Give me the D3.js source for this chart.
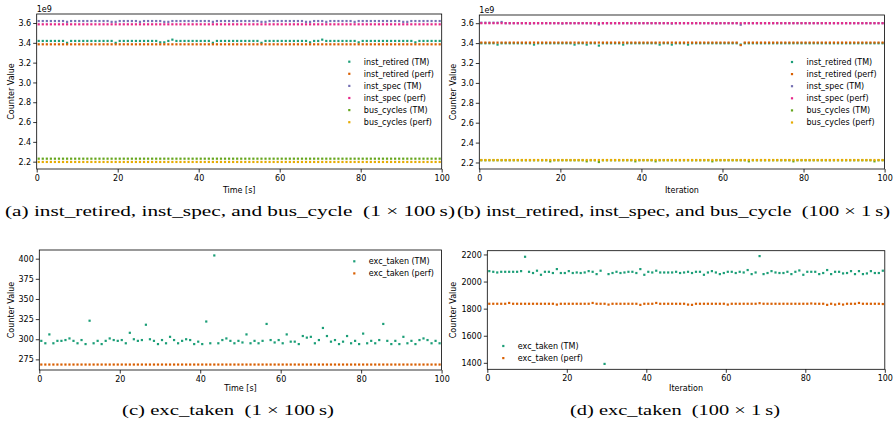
<!DOCTYPE html>
<html><head><meta charset="utf-8">
<script src="https://cdn.jsdelivr.net/npm/d3@7"></script>
<style>
body{margin:0;background:#fff}
svg text{font-family:"DejaVu Sans",sans-serif;fill:#000}
.cap{font-family:"Liberation Serif",serif;white-space:pre}
</style>
</head><body>
<svg id="chart" width="894" height="424"></svg>
<script>
// ---------------- DATA ----------------
const xPos = [0.5,1.5,2.5,3.5,4.5,5.5,6.5,7.5,8.5,9.5,10.5,11.5,12.5,13.5,14.5,15.5,16.5,17.5,18.5,19.5,
20.5,21.5,22.5,23.5,24.5,25.5,26.5,27.5,28.5,29.5,30.5,31.5,32.5,33.5,34.5,35.5,36.5,37.5,38.5,39.5,
40.5,41.5,42.5,43.5,44.5,45.5,46.5,47.5,48.5,49.5,50.5,51.5,52.5,53.5,54.5,55.5,56.5,57.5,58.5,59.5,
60.5,61.5,62.5,63.5,64.5,65.5,66.5,67.5,68.5,69.5,70.5,71.5,72.5,73.5,74.5,75.5,76.5,77.5,78.5,79.5,
80.5,81.5,82.5,83.5,84.5,85.5,86.5,87.5,88.5,89.5,90.5,91.5,92.5,93.5,94.5,95.5,96.5,97.5,98.5,99.5];

const xTicks = [0,20,40,60,80,100];
const yTicksTop = [2.2,2.4,2.6,2.8,3.0,3.2,3.4,3.6];
const yTicksC = [275,300,325,350,375,400];
const yTicksD = [1400,1600,1800,2000,2200];

const seriesNamesTop = ["inst_retired (TM)","inst_retired (perf)","inst_spec (TM)","inst_spec (perf)","bus_cycles (TM)","bus_cycles (perf)"];
const seriesNamesExc = ["exc_taken (TM)","exc_taken (perf)"];
const captions = ["(a) inst_retired, inst_spec, and bus_cycle  (1 \u00d7 100\u2009s)",
                  "(b) inst_retired, inst_spec, and bus_cycle  (100 \u00d7 1\u2009s)",
                  "(c) exc_taken  (1 \u00d7 100\u2009s)",
                  "(d) exc_taken  (100 \u00d7 1\u2009s)"];

// (a) values in units of 1e9
const aInstRetiredTM = [3.419,3.419,3.419,3.419,3.419,3.419,3.419,3.400,3.419,3.419,
3.419,3.419,3.419,3.419,3.419,3.419,3.419,3.419,3.419,3.400,
3.419,3.419,3.419,3.419,3.419,3.419,3.419,3.419,3.419,3.419,
3.405,3.405,3.419,3.432,3.419,3.419,3.419,3.419,3.419,3.419,
3.419,3.419,3.419,3.400,3.419,3.419,3.419,3.419,3.419,3.419,
3.419,3.419,3.419,3.419,3.419,3.400,3.419,3.419,3.419,3.419,
3.419,3.419,3.419,3.419,3.419,3.419,3.419,3.405,3.419,3.419,
3.432,3.419,3.419,3.419,3.419,3.419,3.419,3.419,3.419,3.405,
3.419,3.419,3.419,3.419,3.419,3.419,3.419,3.419,3.419,3.419,
3.419,3.419,3.419,3.405,3.419,3.419,3.419,3.419,3.419,3.419];
const aInstRetiredPerf = [3.385,3.385,3.385,3.385,3.385,3.385,3.385,3.385,3.385,3.385,
3.385,3.385,3.385,3.385,3.385,3.385,3.385,3.385,3.385,3.385,
3.385,3.385,3.385,3.385,3.385,3.385,3.385,3.385,3.385,3.385,
3.385,3.385,3.385,3.385,3.385,3.385,3.385,3.385,3.385,3.385,
3.385,3.385,3.385,3.385,3.385,3.385,3.385,3.385,3.385,3.385,
3.385,3.385,3.385,3.385,3.385,3.385,3.385,3.385,3.385,3.385,
3.385,3.385,3.385,3.385,3.385,3.385,3.385,3.385,3.385,3.385,
3.385,3.385,3.385,3.385,3.385,3.385,3.385,3.385,3.385,3.385,
3.385,3.385,3.385,3.385,3.385,3.385,3.385,3.385,3.385,3.385,
3.385,3.385,3.385,3.385,3.385,3.385,3.385,3.385,3.385,3.385];
const aInstSpecTM = [3.620,3.620,3.620,3.620,3.620,3.620,3.620,3.612,3.620,3.620,
3.620,3.620,3.620,3.620,3.620,3.620,3.620,3.620,3.612,3.612,
3.620,3.620,3.620,3.620,3.620,3.612,3.620,3.620,3.620,3.620,
3.620,3.612,3.612,3.620,3.620,3.620,3.620,3.620,3.620,3.620,
3.620,3.620,3.620,3.612,3.620,3.620,3.620,3.620,3.620,3.620,
3.620,3.620,3.620,3.620,3.620,3.612,3.612,3.620,3.620,3.620,
3.620,3.620,3.620,3.620,3.620,3.620,3.612,3.612,3.620,3.620,
3.620,3.612,3.620,3.620,3.620,3.620,3.620,3.620,3.612,3.620,
3.620,3.620,3.620,3.620,3.620,3.620,3.620,3.620,3.620,3.620,
3.612,3.612,3.620,3.620,3.620,3.620,3.620,3.620,3.620,3.620];
const aInstSpecPerf = [3.587,3.587,3.587,3.587,3.587,3.587,3.587,3.587,3.587,3.587,
3.587,3.587,3.587,3.587,3.587,3.587,3.587,3.587,3.587,3.587,
3.587,3.587,3.587,3.587,3.587,3.587,3.587,3.587,3.587,3.587,
3.587,3.587,3.587,3.587,3.587,3.587,3.587,3.587,3.587,3.587,
3.587,3.587,3.587,3.587,3.587,3.587,3.587,3.587,3.587,3.587,
3.587,3.587,3.587,3.587,3.587,3.587,3.587,3.587,3.587,3.587,
3.587,3.587,3.587,3.587,3.587,3.587,3.587,3.587,3.587,3.587,
3.587,3.587,3.587,3.587,3.587,3.587,3.587,3.587,3.587,3.587,
3.587,3.587,3.587,3.587,3.587,3.587,3.587,3.587,3.587,3.587,
3.587,3.587,3.587,3.587,3.587,3.587,3.587,3.587,3.587,3.587];
const aBusTM = [2.230,2.230,2.230,2.230,2.230,2.230,2.230,2.230,2.230,2.230,
2.230,2.230,2.230,2.230,2.230,2.230,2.230,2.230,2.230,2.230,
2.230,2.230,2.230,2.230,2.230,2.230,2.230,2.230,2.230,2.230,
2.230,2.230,2.230,2.230,2.230,2.230,2.230,2.230,2.230,2.230,
2.230,2.230,2.230,2.230,2.230,2.230,2.230,2.230,2.230,2.230,
2.230,2.230,2.230,2.230,2.230,2.230,2.230,2.230,2.230,2.230,
2.230,2.230,2.230,2.230,2.230,2.230,2.230,2.230,2.230,2.230,
2.230,2.230,2.230,2.230,2.230,2.230,2.230,2.230,2.230,2.230,
2.230,2.230,2.230,2.230,2.230,2.230,2.230,2.230,2.230,2.230,
2.230,2.230,2.230,2.230,2.230,2.230,2.230,2.230,2.230,2.230];
const aBusPerf = [2.197,2.197,2.197,2.197,2.197,2.197,2.197,2.197,2.197,2.197,
2.197,2.197,2.197,2.197,2.197,2.197,2.197,2.197,2.197,2.197,
2.197,2.197,2.197,2.197,2.197,2.197,2.197,2.197,2.197,2.197,
2.197,2.197,2.197,2.197,2.197,2.197,2.197,2.197,2.197,2.197,
2.197,2.197,2.197,2.197,2.197,2.197,2.197,2.197,2.197,2.197,
2.197,2.197,2.197,2.197,2.197,2.197,2.197,2.197,2.197,2.197,
2.197,2.197,2.197,2.197,2.197,2.197,2.197,2.197,2.197,2.197,
2.197,2.197,2.197,2.197,2.197,2.197,2.197,2.197,2.197,2.197,
2.197,2.197,2.197,2.197,2.197,2.197,2.197,2.197,2.197,2.197,
2.197,2.197,2.197,2.197,2.197,2.197,2.197,2.197,2.197,2.197];

// (b) values in units of 1e9
const bInstRetiredTM = [3.398,3.398,3.398,3.398,3.385,3.398,3.398,3.398,3.398,3.398,
3.398,3.398,3.398,3.385,3.398,3.398,3.398,3.398,3.398,3.398,
3.398,3.398,3.398,3.385,3.398,3.398,3.385,3.398,3.398,3.375,
3.398,3.398,3.398,3.398,3.398,3.385,3.398,3.398,3.398,3.398,
3.398,3.398,3.398,3.398,3.385,3.398,3.398,3.385,3.398,3.398,
3.398,3.385,3.398,3.398,3.398,3.398,3.398,3.398,3.398,3.398,
3.398,3.398,3.398,3.398,3.385,3.398,3.398,3.398,3.398,3.398,
3.398,3.398,3.398,3.398,3.398,3.398,3.398,3.398,3.398,3.398,
3.398,3.398,3.398,3.398,3.398,3.398,3.398,3.398,3.398,3.398,
3.398,3.398,3.398,3.398,3.398,3.398,3.398,3.398,3.398,3.398];
const bInstRetiredPerf = [3.405,3.405,3.405,3.405,3.405,3.405,3.405,3.405,3.405,3.405,
3.405,3.405,3.405,3.405,3.405,3.405,3.405,3.405,3.405,3.405,
3.405,3.405,3.405,3.405,3.405,3.405,3.405,3.405,3.405,3.405,
3.405,3.405,3.405,3.405,3.405,3.405,3.405,3.405,3.405,3.405,
3.405,3.405,3.405,3.405,3.405,3.405,3.405,3.405,3.405,3.405,
3.405,3.405,3.405,3.405,3.405,3.405,3.405,3.405,3.405,3.405,
3.405,3.405,3.405,3.405,3.380,3.405,3.405,3.405,3.405,3.405,
3.405,3.405,3.405,3.405,3.405,3.405,3.405,3.405,3.405,3.405,
3.405,3.405,3.405,3.405,3.405,3.405,3.405,3.405,3.405,3.405,
3.405,3.405,3.405,3.405,3.405,3.405,3.405,3.405,3.405,3.405];
const bInstSpecTM = [3.605,3.605,3.605,3.605,3.605,3.612,3.600,3.600,3.600,3.600,
3.600,3.600,3.596,3.600,3.600,3.600,3.600,3.600,3.600,3.600,
3.596,3.600,3.600,3.600,3.600,3.600,3.600,3.600,3.600,3.588,
3.600,3.600,3.600,3.600,3.600,3.600,3.600,3.600,3.600,3.600,
3.600,3.600,3.600,3.600,3.600,3.600,3.600,3.596,3.600,3.600,
3.600,3.600,3.600,3.600,3.600,3.600,3.600,3.600,3.596,3.600,
3.600,3.600,3.600,3.600,3.585,3.600,3.600,3.600,3.600,3.600,
3.600,3.600,3.600,3.600,3.600,3.600,3.600,3.600,3.600,3.600,
3.600,3.600,3.600,3.600,3.600,3.600,3.600,3.600,3.600,3.600,
3.600,3.600,3.600,3.600,3.600,3.600,3.600,3.600,3.600,3.600];
const bInstSpecPerf = [3.600,3.600,3.600,3.600,3.600,3.600,3.600,3.600,3.600,3.600,
3.600,3.600,3.600,3.600,3.600,3.600,3.600,3.600,3.600,3.600,
3.600,3.600,3.600,3.600,3.600,3.600,3.600,3.600,3.600,3.600,
3.600,3.600,3.600,3.600,3.600,3.600,3.600,3.600,3.600,3.600,
3.600,3.600,3.600,3.600,3.600,3.600,3.600,3.600,3.600,3.600,
3.600,3.600,3.600,3.600,3.600,3.600,3.600,3.600,3.600,3.600,
3.600,3.600,3.600,3.600,3.600,3.600,3.600,3.600,3.600,3.600,
3.600,3.600,3.600,3.600,3.600,3.600,3.600,3.600,3.600,3.600,
3.600,3.600,3.600,3.600,3.600,3.600,3.600,3.600,3.600,3.600,
3.600,3.600,3.600,3.600,3.600,3.600,3.600,3.600,3.600,3.600];
const bBusTM = [2.222,2.222,2.222,2.222,2.222,2.222,2.222,2.222,2.222,2.222,
2.222,2.222,2.222,2.222,2.222,2.222,2.222,2.212,2.222,2.222,
2.222,2.222,2.222,2.222,2.222,2.222,2.212,2.222,2.222,2.205,
2.222,2.222,2.222,2.222,2.222,2.222,2.222,2.222,2.212,2.222,
2.222,2.222,2.222,2.212,2.222,2.222,2.222,2.222,2.222,2.222,
2.222,2.222,2.222,2.222,2.222,2.222,2.222,2.212,2.222,2.222,
2.222,2.222,2.222,2.222,2.222,2.222,2.212,2.222,2.222,2.222,
2.222,2.222,2.222,2.222,2.222,2.222,2.222,2.212,2.222,2.222,
2.222,2.222,2.222,2.222,2.222,2.222,2.222,2.222,2.222,2.222,
2.222,2.222,2.222,2.222,2.222,2.222,2.222,2.212,2.222,2.222];
const bBusPerf = [2.225,2.225,2.225,2.225,2.225,2.225,2.225,2.225,2.225,2.225,
2.225,2.225,2.225,2.225,2.225,2.225,2.225,2.225,2.225,2.225,
2.225,2.225,2.225,2.225,2.225,2.225,2.225,2.225,2.225,2.225,
2.225,2.225,2.225,2.225,2.225,2.225,2.225,2.225,2.225,2.225,
2.225,2.225,2.225,2.225,2.225,2.225,2.225,2.225,2.225,2.225,
2.225,2.225,2.225,2.225,2.225,2.225,2.225,2.225,2.225,2.225,
2.225,2.225,2.225,2.225,2.225,2.225,2.225,2.225,2.225,2.225,
2.225,2.225,2.225,2.225,2.225,2.225,2.225,2.225,2.225,2.225,
2.225,2.225,2.225,2.225,2.225,2.225,2.225,2.225,2.225,2.225,
2.225,2.225,2.225,2.225,2.225,2.225,2.225,2.225,2.225,2.225];

// (c) exc_taken, 1 x 100 s
const cExcTM = [298,295,306,295,298,298,299,301,298,295,
299,294,323,295,298,294,298,301,299,298,
299,295,308,300,298,299,318,300,298,294,
299,295,303,299,295,298,300,299,294,297,
294,322,295,404,295,299,301,298,295,298,
296,306,295,298,295,298,319,299,296,299,
295,306,297,297,294,304,302,303,295,299,
314,304,297,299,294,297,304,295,298,294,
307,295,298,295,299,319,298,294,298,294,
303,295,298,294,299,301,299,295,298,295];
const cExcPerf = [268.6,268.6,268.6,268.6,268.6,268.6,268.6,268.6,268.6,268.6,
268.6,268.6,268.6,268.6,268.6,268.6,268.6,268.6,268.6,268.6,
268.6,268.6,268.6,268.6,268.6,268.6,268.6,268.6,268.6,268.6,
268.6,268.6,268.6,268.6,268.6,268.6,268.6,268.6,268.6,268.6,
268.6,268.6,268.6,268.6,268.6,268.6,268.6,268.6,268.6,268.6,
268.6,268.6,268.6,268.6,268.6,268.6,268.6,268.6,268.6,268.6,
268.6,268.6,268.6,268.6,268.6,268.6,268.6,268.6,268.6,268.6,
268.6,268.6,268.6,268.6,268.6,268.6,268.6,268.6,268.6,268.6,
268.6,268.6,268.6,268.6,268.6,268.6,268.6,268.6,268.6,268.6,
268.6,268.6,268.6,268.6,268.6,268.6,268.6,268.6,268.6,268.6];

// (d) exc_taken, 100 x 1 s
const dExcTM = [2077,2072,2067,2072,2072,2072,2072,2072,2077,2183,
2072,2063,2080,2050,2072,2072,2063,2092,2063,2063,
2077,2063,2067,2063,2067,2077,2072,2055,2080,1392,
2055,2063,2072,2063,2067,2072,2072,2063,2092,2050,
2072,2067,2080,2067,2067,2067,2067,2072,2063,2067,
2072,2063,2072,2072,2050,2067,2077,2067,2055,2063,
2072,2072,2063,2072,2067,2085,2055,2067,2188,2055,
2063,2077,2067,2063,2063,2072,2055,2072,2082,2050,
2072,2072,2072,2055,2063,2085,2055,2072,2072,2060,
2063,2077,2055,2077,2055,2060,2077,2063,2063,2080];
const dExcPerf = [1836,1836,1836,1836,1836,1842,1836,1836,1836,1836,
1836,1836,1836,1836,1836,1836,1836,1830,1836,1836,
1836,1836,1836,1836,1836,1836,1842,1836,1836,1836,
1830,1836,1836,1836,1836,1836,1836,1836,1828,1836,
1836,1836,1842,1836,1836,1836,1836,1836,1836,1836,
1830,1828,1836,1836,1836,1836,1836,1836,1836,1836,
1830,1836,1836,1836,1836,1836,1836,1836,1840,1836,
1836,1836,1836,1836,1836,1836,1836,1836,1836,1836,
1836,1838,1836,1836,1836,1828,1836,1830,1836,1830,
1836,1836,1836,1842,1836,1836,1836,1836,1836,1834];

const colorsTop = ["#1b9e77","#d95f02","#7570b3","#e7298a","#66a61e","#e6ab02"];
const colorsExc = ["#1b9e77","#d95f02"];

// ---------------- DRAW ----------------
const svg = d3.select("#chart");

function panel(cfg){
  const g = svg.append("g");
  const all = cfg.series.flat();
  const [mn,mx] = d3.extent(all);
  const m = (mx-mn)*0.05;
  const x = d3.scaleLinear().domain([0,100]).range([cfg.left,cfg.right]);
  const y = d3.scaleLinear().domain([mn-m,mx+m]).range([cfg.bottom,cfg.top]);

  const xa = g.append("g").attr("transform",`translate(0,${cfg.bottom})`)
    .call(d3.axisBottom(x).tickValues(xTicks).tickSize(3.5).tickPadding(2.5).tickFormat(d3.format("d")));
  const ya = g.append("g").attr("transform",`translate(${cfg.left},0)`)
    .call(d3.axisLeft(y).tickValues(cfg.yTicks).tickSize(3.5).tickPadding(2).tickFormat(cfg.yFmt));
  [xa,ya].forEach(a=>{
    a.select(".domain").remove();
    a.selectAll(".tick line").attr("stroke","#000").attr("stroke-width",0.8);
    a.selectAll(".tick text").attr("font-size",8).attr("font-family","DejaVu Sans").attr("fill","#000");
  });

  g.append("rect").attr("x",cfg.left).attr("y",cfg.top)
    .attr("width",cfg.right-cfg.left).attr("height",cfg.bottom-cfg.top)
    .attr("fill","none").attr("stroke","#000").attr("stroke-width",0.8);

  cfg.series.forEach((vals,si)=>{
    g.append("g").selectAll("rect").data(vals).join("rect")
      .attr("x",(d,i)=>x(xPos[i])-1.1).attr("y",d=>y(d)-1.1)
      .attr("width",2.2).attr("height",2.2).attr("fill",cfg.colors[si]);
  });

  // axis labels
  g.append("text").attr("x",(cfg.left+cfg.right)/2).attr("y",cfg.xLabelY)
    .attr("text-anchor","middle").attr("font-size",8).text(cfg.xLabel);
  g.append("text").attr("transform",`translate(${cfg.yLabelX},${(cfg.top+cfg.bottom)/2}) rotate(-90)`)
    .attr("text-anchor","middle").attr("dy","0.35em").attr("font-size",8).text("Counter Value");
  if(cfg.offset){
    g.append("text").attr("x",cfg.left).attr("y",cfg.top-2.5).attr("font-size",8).text(cfg.offset);
  }
  // legend
  cfg.names.forEach((n,i)=>{
    const yy = cfg.legY + i*12.1;
    g.append("rect").attr("x",cfg.legX-1.1).attr("y",yy-1.1).attr("width",2.2).attr("height",2.2).attr("fill",cfg.colors[i]);
    g.append("text").attr("x",cfg.legX+14.5).attr("y",yy).attr("dy","0.35em").attr("font-size",8).text(n);
  });
}

panel({left:36.7,right:441.7,top:14,bottom:169,yTicks:yTicksTop,yFmt:d3.format(".1f"),
  series:[aInstRetiredTM,aInstRetiredPerf,aInstSpecTM,aInstSpecPerf,aBusTM,aBusPerf],
  colors:colorsTop,names:seriesNamesTop,xLabel:"Time [s]",xLabelY:193,yLabelX:11,offset:"1e9",
  legX:349.3,legY:61.7});
panel({left:479.3,right:884.6,top:15,bottom:169,yTicks:yTicksTop,yFmt:d3.format(".1f"),
  series:[bInstRetiredTM,bInstRetiredPerf,bInstSpecTM,bInstSpecPerf,bBusTM,bBusPerf],
  colors:colorsTop,names:seriesNamesTop,xLabel:"Iteration",xLabelY:193,yLabelX:453.5,offset:"1e9",
  legX:792,legY:62});
panel({left:39.3,right:441.6,top:250,bottom:370,yTicks:yTicksC,yFmt:d3.format("d"),
  series:[cExcTM,cExcPerf],colors:colorsExc,names:seriesNamesExc,xLabel:"Time [s]",xLabelY:391,yLabelX:10.8,
  legX:354.3,legY:261.3});
panel({left:487.3,right:884.8,top:250.7,bottom:369.3,yTicks:yTicksD,yFmt:d3.format("d"),
  series:[dExcTM,dExcPerf],colors:colorsExc,names:seriesNamesExc,xLabel:"Iteration",xLabelY:391,yLabelX:453.5,
  legX:503.3,legY:346});

// captions
const capPos = [{x:5,w:450,y:216},{x:457,w:433,y:216},{x:122,w:212,y:415},{x:570,w:210,y:415}];
captions.forEach((c,i)=>{
  svg.append("text").attr("class","cap").attr("x",capPos[i].x).attr("y",capPos[i].y)
    .attr("font-size",15).attr("textLength",capPos[i].w).attr("lengthAdjust","spacingAndGlyphs").text(c);
});
</script>
</body></html>
